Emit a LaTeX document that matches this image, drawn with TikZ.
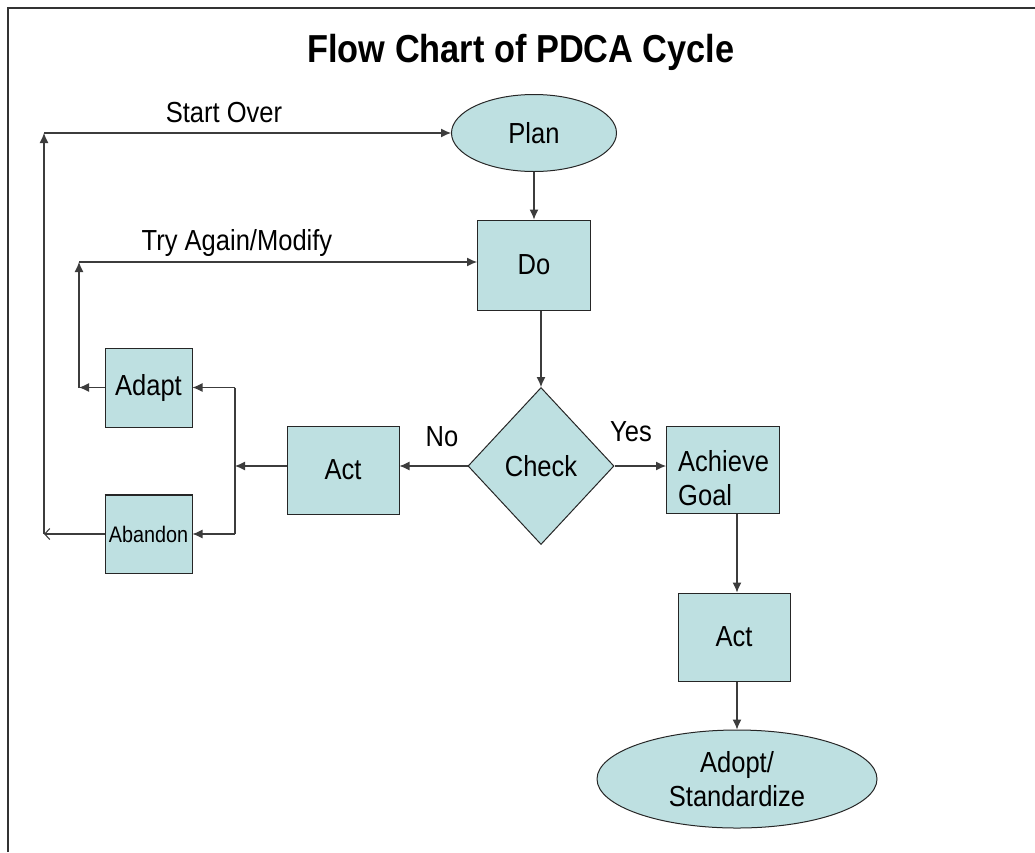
\documentclass[tikz,border=0pt]{standalone}
\usepackage{fontspec}
\setmainfont{Liberation Sans}[FakeStretch=0.88]
\usetikzlibrary{shapes.geometric,arrows.meta}
\definecolor{boxfill}{RGB}{190,224,225}
\definecolor{linegray}{RGB}{60,60,60}
\tikzset{
  box/.style={draw=black!85, line width=1pt, fill=boxfill, rectangle, inner sep=0pt,
    font=\fontsize{29}{34}\selectfont},
  oval/.style={box, ellipse},
  decision/.style={box, diamond},
  conn/.style={draw=linegray, line width=1.1pt},
  arr/.style={conn, -{Latex[length=10pt,width=9pt]}},
  openarr/.style={conn, -{Straight Barb[length=5pt,width=11pt]}},
  lbl/.style={font=\fontsize{29}{34}\selectfont, inner sep=0pt}
}
\begin{document}
\begin{tikzpicture}[x=1pt,y=-1pt]
  \useasboundingbox (0,0) rectangle (1035,852);
  % page frame (top and left edges only)
  \draw[line width=2.8pt, draw=black!80] (8,852) -- (8,8) -- (1035,8);

  % title
  \node[font=\fontsize{39}{44}\selectfont\bfseries, inner sep=0pt] (title) at (521,52) {Flow Chart of PDCA Cycle};

  % main nodes
  \node[oval, minimum width=165pt, minimum height=77pt] (plan) at (534,133) {Plan};
  \node[box, minimum width=113pt, minimum height=90pt] (do) at (534,265) {Do};
  \node[decision, minimum width=146pt, minimum height=157pt] (check) at (541,466) {Check};
  \node[box, minimum width=112pt, minimum height=88pt] (act1) at (343,470) {Act};
  \node[box, minimum width=113pt, minimum height=87pt] (goal) at (723,470) {};
  \node[lbl, align=left, anchor=north west] (goaltext) at (678,450) {Achieve\\Goal};
  \node[box, minimum width=112pt, minimum height=88pt] (act2) at (734,637) {Act};
  \node[oval, minimum width=280pt, minimum height=98pt, align=center] (adopt) at (737,779) {Adopt/\\Standardize};
  \node[box, minimum width=87pt, minimum height=79pt] (adapt) at (148.5,387.5) {Adapt};
  \node[box, minimum width=87pt, minimum height=78pt, font=\fontsize{22.5}{26}\selectfont] (abandon) at (148.5,534) {Abandon};
  \draw[line width=2pt, draw=black!85] (abandon.north west) -- (abandon.north east);

  % routing points
  \coordinate (split) at (235,466);
  \coordinate (splitTop) at (235,387.5);
  \coordinate (splitBot) at (235,534);
  \coordinate (retryLow) at (79,387.5);
  \coordinate (retryHigh) at (79,262);
  \coordinate (restartLow) at (44,534);
  \coordinate (restartHigh) at (44,133);

  % main flow
  \draw[arr] (plan.south) -- (do.north);
  \draw[arr] (check.north |- do.south) -- (check.north);
  \draw[arr] (check.west) -- (check.west -| act1.east);
  \draw[arr] (check.east) -- (check.east -| goal.west);
  \draw[arr] (goal.south -| adopt.north) -- (act2.north -| adopt.north);
  \draw[arr] (act2.south -| adopt.north) -- (adopt.north);

  % "No" branch
  \draw[arr] (act1.west |- split) -- (split);
  \draw[conn] (splitTop) -- (splitBot);
  \draw[arr] (splitTop) -- (adapt.east);
  \draw[arr] (splitBot) -- (abandon.east);

  % try again loop
  \draw[arr] (adapt.west) -- (retryLow);
  \draw[arr] (retryLow) -- (retryHigh);
  \draw[arr] (retryHigh) -- (retryHigh -| do.west);

  % start over loop
  \draw[openarr] (abandon.west) -- (restartLow);
  \draw[arr] (restartLow) -- (restartHigh);
  \draw[arr] (restartHigh) -- (plan.west);

  % labels
  \node[lbl] (startover) at (224,113) {Start Over};
  \node[lbl] (tryagain) at (237,243) {Try Again/Modify};
  \node[lbl] (no) at (442,437) {No};
  \node[lbl] (yes) at (631,432) {Yes};
\end{tikzpicture}
\end{document}
